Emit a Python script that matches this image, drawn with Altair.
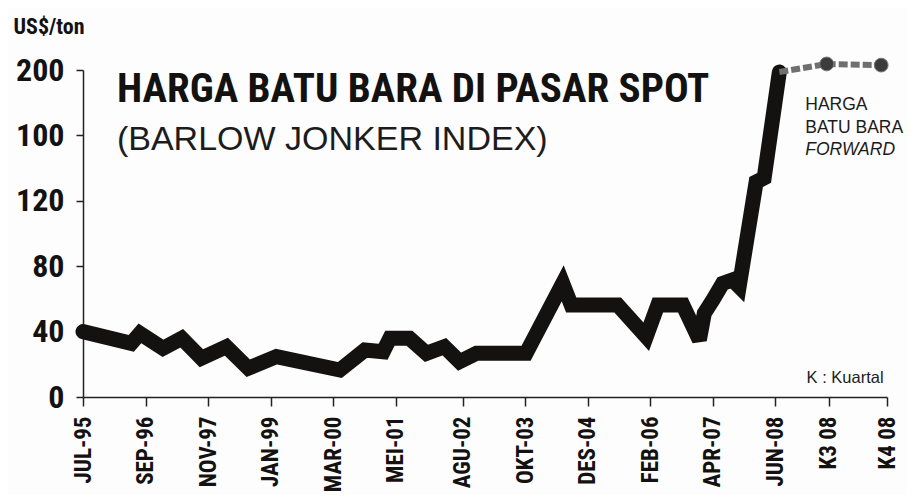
import json
import altair as alt
import pandas as pd

# ---- axis ticks / labels (as printed on the chart) ----
x_ticks = [0, 14, 28, 42, 56, 70, 85, 99, 113, 127, 141, 155, 167, 180]
x_labels = ["JUL-95", "SEP-96", "NOV-97", "JAN-99", "MAR-00", "MEI-01", "AGU-02",
            "OKT-03", "DES-04", "FEB-06", "APR-07", "JUN-08", "K3 08", "K4 08"]
y_ticks = [0, 40, 80, 120, 160, 200]
y_labels = ["0", "40", "80", "120", "100", "200"]

# ---- spot price series (months since JUL-95, US$/ton) ----
spot_month = [0, 10.8, 12.75, 17.9, 22.1, 26.5, 32.1, 37.0, 43.3, 57.5, 63.1, 67.2,
              68.7, 73.1, 76.9, 80.9, 84.3, 88.1, 99.2, 107.4, 109.3, 119.7, 126.1,
              128.7, 134.3, 138.0, 139.1, 141.0, 143.2, 145.4, 146.9, 150.7, 152.5, 155.9]
spot_price = [40, 32.8, 38.9, 29.8, 35.9, 23.7, 30.8, 17.6, 24.7, 16.5, 28.7, 27.7,
              35.9, 35.9, 26.7, 30.8, 21.6, 26.7, 26.7, 69.5, 56.3, 56.3, 36.9,
              56.3, 56.3, 34.9, 51.2, 59.3, 69.5, 71.6, 67.5, 131.5, 134.0, 198.8]

# ---- forward price ----
fwd_month = [155.9, 166.5, 178.7]
fwd_price = [198.8, 203.7, 203.0]
fwd_dot = [False, True, True]

spot = pd.DataFrame({"month": spot_month, "price": spot_price})
fwd = pd.DataFrame({"month": fwd_month, "price": fwd_price, "dot": fwd_dot})

COND = "Roboto Condensed, Liberation Sans Narrow, Roboto, sans-serif"
SANS = "Liberation Sans, Arial, Helvetica, sans-serif"
INK = "#141111"

x_expr = f"{json.dumps(x_labels)}[indexof({json.dumps(x_ticks)}, datum.value)]"
y_expr = f"{json.dumps(y_labels)}[indexof({json.dumps(y_ticks)}, datum.value)]"

x_enc = alt.X(
    "month:Q",
    scale=alt.Scale(domain=[0, 180], nice=False, zero=False),
    axis=alt.Axis(values=x_ticks, labelExpr=x_expr, labelAngle=-90, title=None,
                  labelFont=COND, labelFontWeight="bold", labelFontSize=23,
                  labelColor=INK, labelPadding=10, tickSize=9, tickColor="#222",
                  tickWidth=1.5, domainColor="#222", domainWidth=1.5, grid=False,
                  labelOverlap=False),
)
y_enc = alt.Y(
    "price:Q",
    scale=alt.Scale(domain=[0, 200], nice=False),
    axis=alt.Axis(values=y_ticks, labelExpr=y_expr, title="US$/ton", titleAngle=0,
                  titleAlign="left", titleBaseline="alphabetic", titleX=-70, titleY=-37,
                  titleFont=COND, titleFontSize=22, titleFontWeight="bold", titleColor=INK,
                  labelFont=COND, labelFontWeight="bold", labelFontSize=32,
                  labelColor=INK, labelPadding=12, tickSize=7, tickColor="#222",
                  tickWidth=1.5, domainColor="#222", domainWidth=1.5, grid=False),
)

spot_line = alt.Chart(spot).mark_line(
    color=INK, strokeWidth=15, strokeCap="round", strokeJoin="miter", strokeMiterLimit=3
).encode(x=x_enc, y=y_enc)

fwd_line = alt.Chart(fwd).mark_line(
    color="#6f6f6f", strokeWidth=6, strokeDash=[9, 3]
).encode(x="month:Q", y="price:Q")

fwd_dots = alt.Chart(fwd).transform_filter("datum.dot").mark_point(
    filled=True, size=190, color="#3c3c3c", stroke="#777", strokeWidth=1, opacity=1
).encode(x="month:Q", y="price:Q")

title = alt.Chart().mark_text(
    text="HARGA BATU BARA DI PASAR SPOT", font=COND, fontWeight="bold", fontSize=41,
    align="left", baseline="alphabetic", color=INK
).encode(x=alt.datum(7.6), y=alt.datum(180.4))

subtitle = alt.Chart().mark_text(
    text="(BARLOW JONKER INDEX)", font=SANS, fontSize=34,
    align="left", baseline="alphabetic", color="#1c1c1c"
).encode(x=alt.datum(7.6), y=alt.datum(151))

fwd_l1 = alt.Chart().mark_text(
    text="HARGA", font=SANS, fontSize=17.5, align="left", baseline="alphabetic", color="#1c1c1c"
).encode(x=alt.datum(161.7), y=alt.datum(175.5))
fwd_l2 = alt.Chart().mark_text(
    text="BATU BARA", font=SANS, fontSize=17.5, align="left", baseline="alphabetic", color="#1c1c1c"
).encode(x=alt.datum(161.7), y=alt.datum(161.6))
fwd_l3 = alt.Chart().mark_text(
    text="FORWARD", font=SANS, fontSize=17.5, fontStyle="italic", align="left",
    baseline="alphabetic", color="#1c1c1c"
).encode(x=alt.datum(161.7), y=alt.datum(148))

note = alt.Chart().mark_text(
    text="K : Kuartal", font=SANS, fontSize=16.5, align="left", baseline="alphabetic",
    color="#1c1c1c"
).encode(x=alt.datum(162), y=alt.datum(8.6))

chart = alt.layer(
    spot_line, fwd_line, fwd_dots, title, subtitle, fwd_l1, fwd_l2, fwd_l3, note
).properties(
    width=804, height=327,
    autosize=alt.AutoSizeParams(type="none"),
    padding={"left": 75, "top": 62, "right": 20, "bottom": 98},
    background="#fdfdfd",
).configure_view(stroke=None)

chart.save("out.html", embed_options={"renderer": "svg", "actions": False})
